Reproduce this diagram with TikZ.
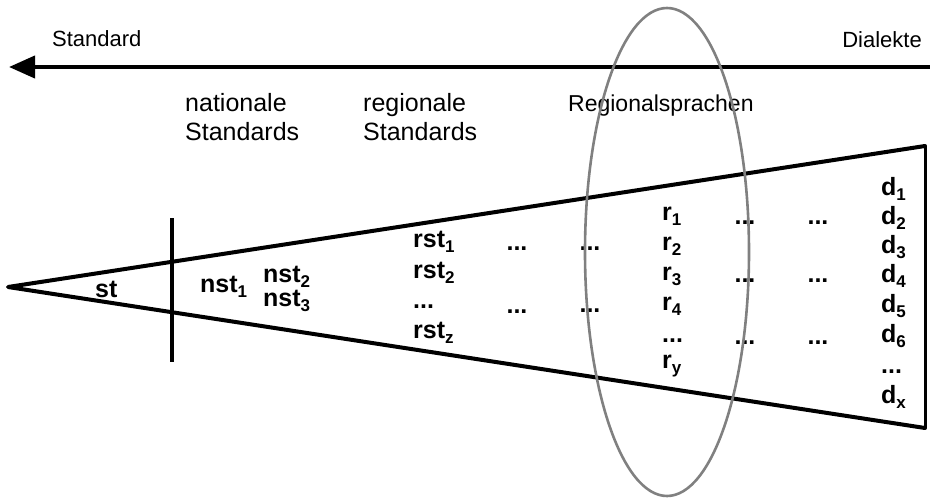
\documentclass[tikz,border=0pt]{standalone}
\usepackage{fontspec}
\setmainfont{Liberation Sans}
\usetikzlibrary{arrows.meta,shapes.geometric}
\newcommand{\lsub}[1]{\raisebox{-0.2em}{\fontsize{17}{17}\selectfont\bfseries #1}}
\begin{document}
\begin{tikzpicture}[x=1pt,y=-1pt,
  plain/.style={font=\fontsize{22}{26}\selectfont, inner sep=0pt, anchor=base west},
  head/.style={font=\fontsize{25}{28}\selectfont, inner sep=0pt, anchor=base west},
  lab/.style={font=\fontsize{25}{28}\selectfont\bfseries, inner sep=0pt, anchor=base west},
  dts/.style={font=\fontsize{25}{28}\selectfont\bfseries, inner sep=0pt, anchor=center},
  thick line/.style={line width=4pt, line join=round, line cap=round},
  ring/.style={draw=black!50, line width=2.6pt, ellipse, inner sep=0pt,
    minimum width=164pt, minimum height=488pt}]
\useasboundingbox (0,0) rectangle (930,503);
% scale arrow
\coordinate (arrR) at (930,67);
\coordinate (arrL) at (9,67);
\draw[line width=4pt, -{Triangle[length=26pt,width=22pt]}] (arrR) -- (arrL);
\node[plain] (standard) at (52,47) {Standard};
\node[plain, anchor=base east] (dialekte) at (922,48) {Dialekte};
% headings
\node[head] (nat1) at (185,112) {nationale};
\node[head] (nat2) at (185,140) {Standards};
\node[head] (reg1) at (363,112) {regionale};
\node[head] (reg2) at (363,140) {Standards};
\node[plain, font=\fontsize{23}{26}\selectfont] (regsp) at (568,112) {Regionalsprachen};
% wedge
\coordinate (apex) at (8,287);
\coordinate (tr) at (925,146);
\coordinate (br) at (925,428);
\draw[thick line] (tr) -- (apex) -- (br);
\draw[line width=3pt] (tr) -- (br);
\coordinate (vt) at (172,218);
\coordinate (vb) at (172,362);
\draw[line width=3.5pt] (vt) -- (vb);
% labels
\node[lab] (st) at (95,297) {st};
\node[lab] (nst1) at (200,292) {nst\lsub{1}};
\node[lab] (nst2) at (263,282) {nst\lsub{2}};
\node[lab] (nst3) at (263,306) {nst\lsub{3}};
\node[lab] (rst1) at (413,247) {rst\lsub{1}};
\node[lab] (rst2) at (413,278) {rst\lsub{2}};
\node[lab] (rstd) at (413,308) {...};
\node[lab] (rstz) at (413,338) {rst\lsub{z}};
\node[dts] (da1) at (517,249) {...};
\node[dts] (da2) at (517,312) {...};
\node[dts] (db1) at (590,249) {...};
\node[dts] (db2) at (590,311) {...};
\node[lab] (r1) at (662,220) {r\lsub{1}};
\node[lab] (r2) at (662,250) {r\lsub{2}};
\node[lab] (r3) at (662,280) {r\lsub{3}};
\node[lab] (r4) at (662,310) {r\lsub{4}};
\node[lab] (rd) at (662,342) {...};
\node[lab] (ry) at (662,368) {r\lsub{y}};
\node[dts] (dc1) at (745,223) {...};
\node[dts] (dc2) at (745,281) {...};
\node[dts] (dc3) at (745,343) {...};
\node[dts] (dd1) at (818,223) {...};
\node[dts] (dd2) at (818,281) {...};
\node[dts] (dd3) at (818,343) {...};
\node[lab] (d1) at (881,195) {d\lsub{1}};
\node[lab] (d2) at (881,224) {d\lsub{2}};
\node[lab] (d3) at (881,253) {d\lsub{3}};
\node[lab] (d4) at (881,282) {d\lsub{4}};
\node[lab] (d5) at (881,312) {d\lsub{5}};
\node[lab] (d6) at (881,342) {d\lsub{6}};
\node[lab] (ddots) at (881,373) {...};
\node[lab] (dx) at (881,403) {d\lsub{x}};
% ellipse
\node[ring] (regring) at (667,252) {};
\end{tikzpicture}
\end{document}
